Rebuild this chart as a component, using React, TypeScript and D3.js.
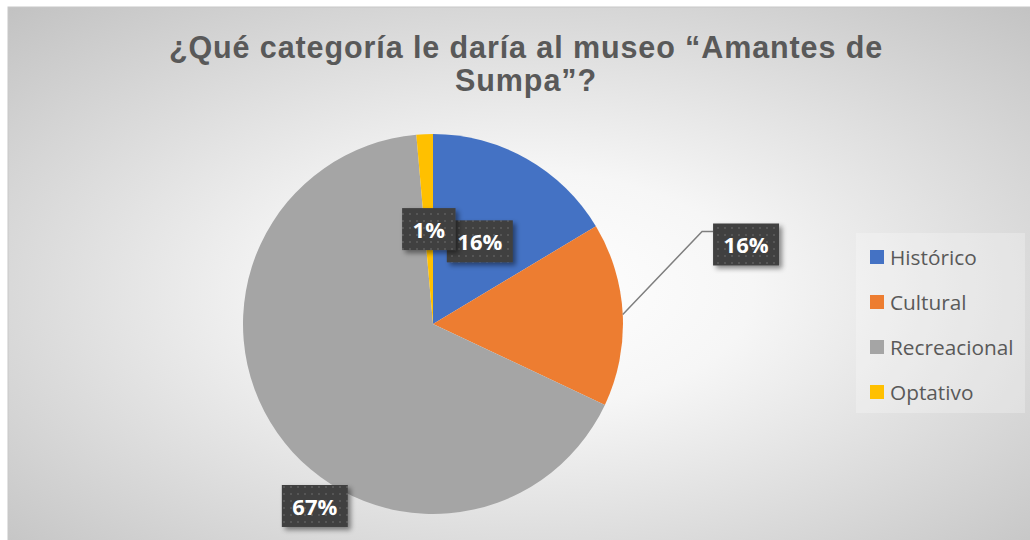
import React, { useEffect, useRef } from "react";
import * as d3 from "d3";

const categories = ["Histórico", "Cultural", "Recreacional", "Optativo"];
const values = [16.4, 15.6, 66.6, 1.4];
const colors = ["#4472C4", "#ED7D31", "#A5A5A5", "#FFC000"];
const titleLines = ["¿Qué categoría le daría al museo “Amantes de", "Sumpa”?"];

// label placement (polar, relative to pie centre); null angle = slice mid-angle
const labelLayout = [
  { angle: null as number | null, k: 0.5, leader: false },
  { angle: 75.75, k: 1.7, leader: true },
  { angle: 213, k: 1.142, leader: false },
  { angle: null as number | null, k: 0.5, leader: false },
];

export default function App() {
  const ref = useRef<SVGSVGElement>(null);
  useEffect(() => {
    const svg = d3.select(ref.current);
    svg.selectAll("*").remove();
    const defs = svg.append("defs");
    const grad = defs.append("radialGradient").attr("id", "bg")
      .attr("cx", "0.5").attr("cy", "0.52").attr("r", "0.72");
    grad.append("stop").attr("offset", "0").attr("stop-color", "#ffffff");
    grad.append("stop").attr("offset", "0.3").attr("stop-color", "#f6f6f6");
    grad.append("stop").attr("offset", "1").attr("stop-color", "#c2c2c2");

    const pat = defs.append("pattern").attr("id", "dots").attr("patternUnits", "userSpaceOnUse")
      .attr("width", 7).attr("height", 7);
    pat.append("rect").attr("width", 7).attr("height", 7).attr("fill", "#404040");
    pat.append("rect").attr("x", 3).attr("y", 3).attr("width", 2).attr("height", 2).attr("fill", "#575757");

    const sh = defs.append("filter").attr("id", "shadow").attr("x", "-20%").attr("y", "-20%")
      .attr("width", "150%").attr("height", "150%");
    sh.append("feDropShadow").attr("dx", 3).attr("dy", 3).attr("stdDeviation", 2.5)
      .attr("flood-color", "#000").attr("flood-opacity", 0.45);

    svg.append("rect").attr("x", 8).attr("y", 7).attr("width", 1040).attr("height", 545)
      .attr("fill", "url(#bg)").attr("stroke", "#c8c8c8").attr("stroke-width", 1);

    // title
    const title = svg.append("text").attr("text-anchor", "middle")
      .attr("font-family", "'Liberation Sans', Arial, sans-serif").attr("font-weight", "bold")
      .attr("font-size", 30.5).attr("letter-spacing", 0.9).attr("fill", "#595959");
    titleLines.forEach((t, i) => {
      title.append("tspan").attr("x", 526).attr("y", 58 + i * 33).text(t);
    });

    // pie
    const cx = 433, cy = 324, r = 190;
    const pie = d3.pie<number>().sort(null).value((d) => d);
    const arcs = pie(values);
    const arc = d3.arc<d3.PieArcDatum<number>>().innerRadius(0).outerRadius(r);
    const g = svg.append("g").attr("transform", `translate(${cx},${cy})`);
    g.selectAll("path").data(arcs).enter().append("path")
      .attr("d", arc as any).attr("fill", (_d, i) => colors[i]);

    // labels
    const lg = svg.append("g");
    arcs.forEach((a, i) => {
      const lay = labelLayout[i];
      const mid = (a.startAngle + a.endAngle) / 2;
      const ang = lay.angle === null ? mid : (lay.angle * Math.PI) / 180;
      const lx = cx + Math.sin(ang) * r * lay.k;
      const ly = cy - Math.cos(ang) * r * lay.k;
      const txt = `${Math.round(a.data)}%`;
      const grp = lg.append("g");
      const rect = grp.append("rect").attr("fill", "url(#dots)").attr("filter", "url(#shadow)");
      const t = grp.append("text").attr("x", lx).attr("y", ly).attr("text-anchor", "middle")
        .attr("dominant-baseline", "central")
        .attr("font-family", "'Open Sans', sans-serif").attr("font-weight", "bold")
        .attr("font-size", 22).attr("fill", "#ffffff").text(txt);
      const tw = (t.node() as SVGTextElement).getComputedTextLength();
      const bw = tw + 21, bh = 42;
      const bx = lx - bw / 2, by = ly - bh / 2;
      rect.attr("x", bx).attr("y", by).attr("width", bw).attr("height", bh);
      if (lay.leader) {
        const px = cx + Math.sin(mid) * r, py = cy - Math.cos(mid) * r;
        lg.insert("path", ":first-child")
          .attr("d", `M${px},${py}L${bx - 11},${by + 8}L${bx},${by + 8}`)
          .attr("fill", "none").attr("stroke", "#7f7f7f").attr("stroke-width", 1.5);
      }
    });

    // legend
    const leg = svg.append("g");
    leg.append("rect").attr("x", 856).attr("y", 233).attr("width", 169).attr("height", 180)
      .attr("fill", "#ffffff").attr("opacity", 0.25);
    const y0 = 257, dy = 45;
    categories.forEach((c, i) => {
      const y = y0 + i * dy;
      leg.append("rect").attr("x", 870).attr("y", y - 7).attr("width", 14).attr("height", 14)
        .attr("fill", colors[i]);
      leg.append("text").attr("x", 890).attr("y", y).attr("dominant-baseline", "central")
        .attr("font-family", "'Open Sans', sans-serif").attr("font-size", 20.8)
        .attr("fill", "#595959").text(c);
    });
  }, []);
  return (
    <svg ref={ref} width={1030} height={540}
      style={{ position: "absolute", left: 0, top: 0, display: "block" }} />
  );
}
